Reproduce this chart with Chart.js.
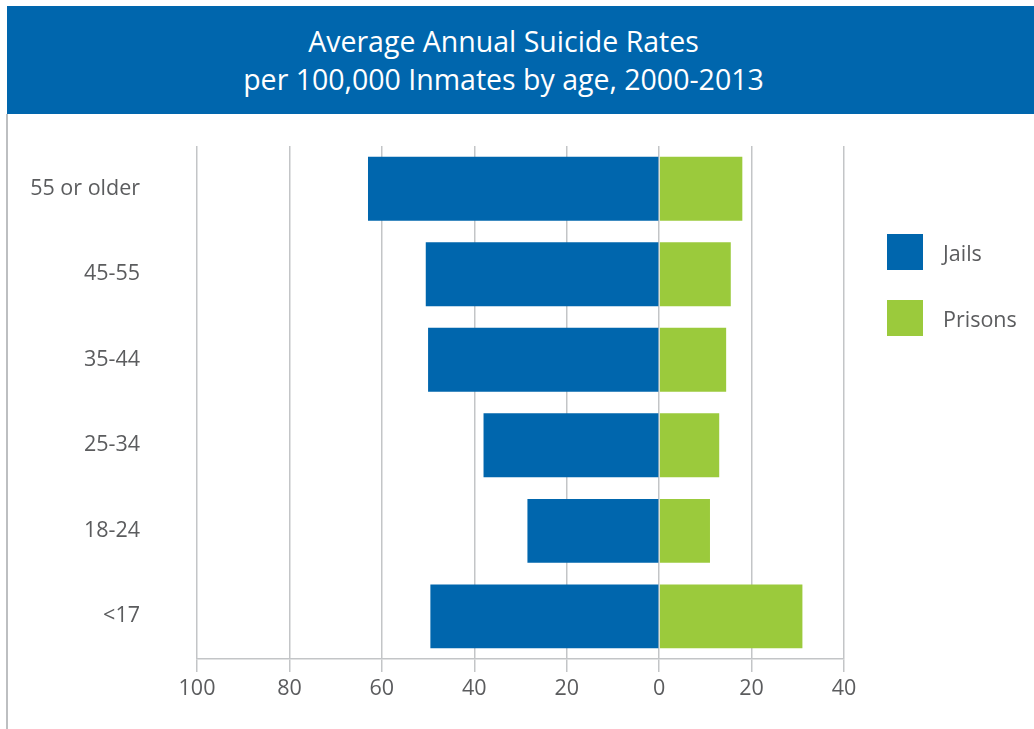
<!DOCTYPE html>
<html>
<head>
<meta charset="utf-8">
<script src="https://cdn.jsdelivr.net/npm/chart.js@4"></script>
<style>
  html, body { margin: 0; padding: 0; background: #ffffff; }
  #wrap { position: relative; width: 1034px; height: 729px; overflow: hidden; }
  #header { position: absolute; left: 7px; top: 6px; width: 993px; padding-right: 34px; height: 108px; background: #0066ad;
            color: #ffffff; font-family: "Open Sans", sans-serif; font-size: 28.5px; text-align: center; line-height: 38px; }
  #header div:first-child { padding-top: 16px; }
  #frame { position: absolute; left: 6px; top: 114px; width: 2px; height: 615px; background: #bdbfc1; }
  #c { position: absolute; left: 0; top: 0; }
</style>
</head>
<body>
<div id="wrap">
  <div id="header"><div>Average Annual Suicide Rates</div><div>per 100,000 Inmates by age, 2000-2013</div></div>
  <div id="frame"></div>
  <canvas id="c" width="1034" height="729"></canvas>
</div>
<script>
const categories = ["55 or older", "45-55", "35-44", "25-34", "18-24", "<17"];
const jails = [63, 50.5, 50, 38, 28.5, 49.5];
const prisons = [18, 15.5, 14.5, 13, 11, 31];
const seriesNames = ["Jails", "Prisons"];
const seriesColors = ["#0066ad", "#9bca3c"];
const tickValues = [-100, -80, -60, -40, -20, 0, 20, 40];

const textColor = "#5b5c5e";
const gridColor = "#c3c5c7";

const legendPlugin = {
  id: "sideLegend",
  afterDraw(chart) {
    const ctx = chart.ctx;
    ctx.save();
    chart.data.datasets.forEach((ds, i) => {
      const y = 234 + i * 66;
      ctx.fillStyle = ds.backgroundColor;
      ctx.fillRect(887, y, 36, 36);
      ctx.fillStyle = textColor;
      ctx.font = '21.5px "Open Sans", sans-serif';
      ctx.textBaseline = "middle";
      ctx.textAlign = "left";
      ctx.fillText(ds.label, 943, y + 21);
    });
    ctx.restore();
  }
};

new Chart(document.getElementById("c"), {
  type: "bar",
  data: {
    labels: categories,
    datasets: [
      { label: seriesNames[0], data: jails.map(v => -v), backgroundColor: seriesColors[0] },
      { label: seriesNames[1], data: prisons, backgroundColor: seriesColors[1] }
    ]
  },
  options: {
    indexAxis: "y",
    responsive: false,
    animation: false,
    layout: { padding: { top: 146, right: 190, left: 0, bottom: 0 } },
    datasets: { bar: { barPercentage: 0.747, categoryPercentage: 1.0 } },
    plugins: { legend: { display: false }, tooltip: { enabled: false }, title: { display: false } },
    scales: {
      x: {
        type: "linear",
        stacked: true,
        min: -100,
        max: 40,
        afterBuildTicks(scale) { scale.ticks = tickValues.map(v => ({ value: v })); },
        afterFit(scale) { scale.height = 69; },
        grid: { color: gridColor, lineWidth: 1.5, drawTicks: true, tickLength: 13, tickColor: gridColor },
        border: { display: true, color: gridColor, width: 1.5 },
        ticks: {
          color: textColor,
          font: { family: "Open Sans", size: 21.5 },
          padding: 4,
          callback: v => String(Math.abs(v))
        }
      },
      y: {
        stacked: true,
        afterFit(scale) { scale.width = 197; },
        grid: { display: false, drawTicks: false },
        border: { display: false },
        ticks: {
          color: textColor,
          font: { family: "Open Sans", size: 21.5 },
          padding: 57
        }
      }
    }
  },
  plugins: [legendPlugin]
});
</script>
</body>
</html>
